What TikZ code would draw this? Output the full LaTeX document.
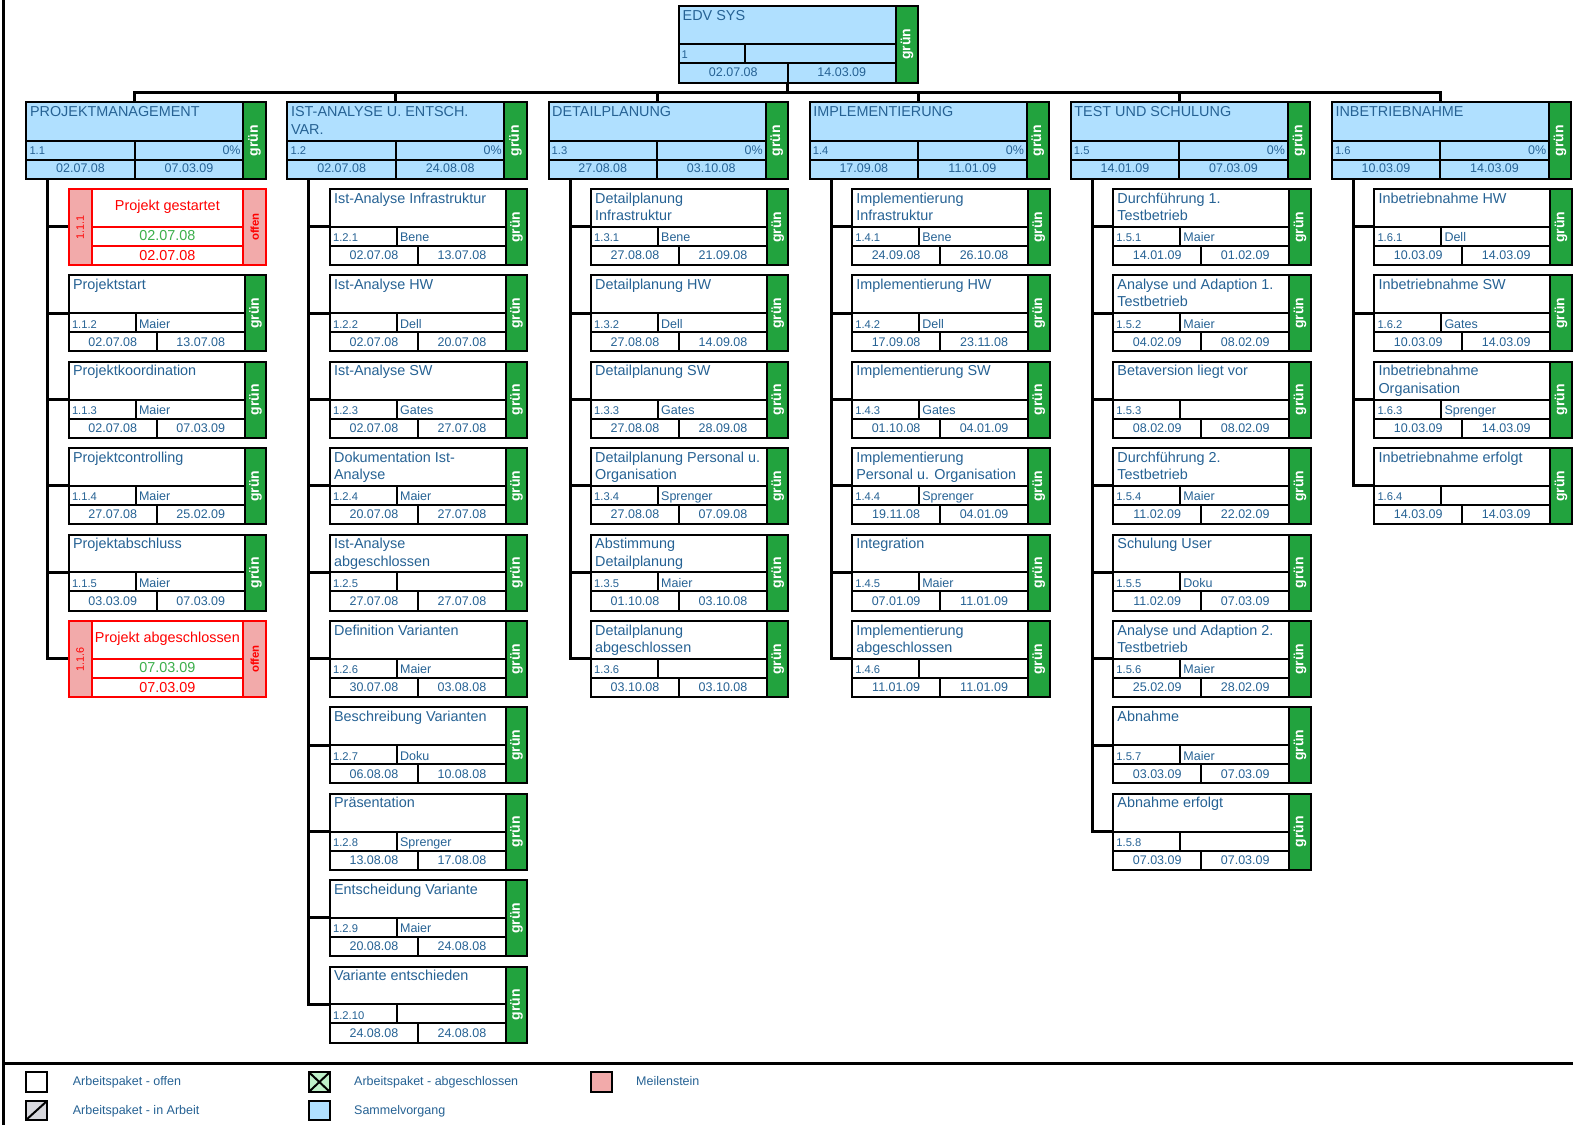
\documentclass[tikz,border=0pt]{standalone}
\usepackage{fontspec}
\setmainfont{Liberation Sans}
\definecolor{txt}{RGB}{38,98,148}
\definecolor{sumblue}{RGB}{176,224,255}
\definecolor{grn}{RGB}{34,163,62}
\definecolor{mspink}{RGB}{242,170,170}
\definecolor{msred}{RGB}{255,0,0}
\definecolor{msgreen}{RGB}{60,175,75}
\definecolor{lgray}{RGB}{215,215,220}
\definecolor{lgreen}{RGB}{190,240,200}
\newcommand\fT{\fontsize{14.4}{17.5}\selectfont}
\newcommand\fS{\fontsize{12.5}{14}\selectfont}
\newcommand\fI{\fontsize{11.2}{13}\selectfont}
\newcommand\fG{\fontsize{14}{16}\selectfont\bfseries}
\tikzset{
  bx/.style={draw=black, line width=2pt},
  ln/.style={draw=black, line width=2pt},
  msb/.style={draw=msred, line width=2pt},
  conn/.style={draw=black, line width=3pt},
  ttl/.style={anchor=base west, inner sep=0pt, text=txt, font=\fT},
  idt/.style={anchor=base west, inner sep=0pt, text=txt, font=\fI},
  nmt/.style={anchor=base west, inner sep=0pt, text=txt, font=\fS},
  dtt/.style={anchor=base, inner sep=0pt, text=txt, font=\fS},
  pct/.style={anchor=base east, inner sep=0pt, text=txt, font=\fS},
  gr/.style={rotate=90, inner sep=0pt, text=white, font=\fG},
  legt/.style={anchor=base west, inner sep=0pt, text=txt, font=\fS},
}
% summary box: #1 col, #2 line1, #3 line2, #4 id, #5 start, #6 end
\newcommand\SUMbox[6]{%
  \pgfmathsetmacro\sx{26.3+261.1*(#1-1)}%
  \pgfmathsetmacro\sxR{\sx+217}%
  \pgfmathsetmacro\sxG{\sx+239.4}%
  \pgfmathsetmacro\sxC{\sx+108.5}%
  \filldraw[bx, fill=grn] (\sxR,102) rectangle (\sxG,179);
  \filldraw[bx, fill=sumblue] (\sx,102) rectangle (\sxR,179);
  \draw[ln] (\sx,141) -- (\sxR,141) (\sx,160) -- (\sxR,160) (\sxC,141) -- (\sxC,179);
  \node[ttl] (s#1-t) at (\sx+3.5,116.5) {\vtop{\hbox{#2}\hbox{#3}}};
  \node[idt] (s#1-id) at (\sx+3,154.5) {#4};
  \node[pct] (s#1-pc) at (\sxR-2.5,154.5) {0\%};
  \node[dtt] (s#1-s) at ({(\sx+\sxC)/2},172.7) {#5};
  \node[dtt] (s#1-e) at ({(\sxC+\sxR)/2},172.7) {#6};
  \node[gr] (s#1-g) at ({(\sxR+\sxG)/2},140.5) {grün};
  \coordinate (s#1-n) at (\sxC,102);
  \coordinate (s#1-sp) at (\sx+21.5,179);
  \draw[conn] (top-s) -- (top-s |- bus) -| (s#1-n);
}
% work package: #1 col, #2 row, #3 line1, #4 line2, #5 id, #6 person, #7 start, #8 end
\newcommand\WPbox[8]{%
  \pgfmathsetmacro\wx{26.3+261.1*(#1-1)+42.5}%
  \pgfmathsetmacro\wy{189+86.4*(#2-1)}%
  \pgfmathsetmacro\wxR{\wx+176}%
  \pgfmathsetmacro\wxG{\wx+197.4}%
  \pgfmathsetmacro\wyT{\wy+37.7}%
  \pgfmathsetmacro\wyM{\wy+56.7}%
  \pgfmathsetmacro\wyB{\wy+76}%
  \pgfmathsetmacro\wxA{\wx+67}%
  \pgfmathsetmacro\wxC{\wx+88}%
  \coordinate (c#1k#2-b) at (\wx,\wyT);
  \draw[conn] (s#1-sp) |- (c#1k#2-b);
  \filldraw[bx, fill=grn] (\wxR,\wy) rectangle (\wxG,\wyB);
  \filldraw[bx, fill=white] (\wx,\wy) rectangle (\wxR,\wyB);
  \draw[ln] (\wx,\wyT) -- (\wxR,\wyT) (\wx,\wyM) -- (\wxR,\wyM) (\wxA,\wyT) -- (\wxA,\wyM) (\wxC,\wyM) -- (\wxC,\wyB);
  \node[ttl] (c#1k#2-t) at (\wx+4,\wy+14) {\vtop{\hbox{#3}\hbox{#4}}};
  \node[idt] (c#1k#2-id) at (\wx+3,\wyM-4) {#5};
  \node[nmt] (c#1k#2-p) at (\wxA+3,\wyM-4) {#6};
  \node[dtt] (c#1k#2-s) at ({(\wx+\wxC)/2},\wyB-5.3) {#7};
  \node[dtt] (c#1k#2-e) at ({(\wxC+\wxR)/2},\wyB-5.3) {#8};
  \node[gr] (c#1k#2-g) at ({(\wxR+\wxG)/2},{(\wy+\wyB)/2}) {grün};
}
% milestone: #1 col, #2 row, #3 title, #4 id, #5 date1, #6 date2
\newcommand\MSbox[6]{%
  \pgfmathsetmacro\wx{26.3+261.1*(#1-1)+42.5}%
  \pgfmathsetmacro\wy{189+86.4*(#2-1)}%
  \pgfmathsetmacro\mxa{\wx+22.7}%
  \pgfmathsetmacro\mxb{\wx+174.4}%
  \pgfmathsetmacro\wxG{\wx+197.4}%
  \pgfmathsetmacro\wyT{\wy+37.7}%
  \pgfmathsetmacro\wyM{\wy+56.7}%
  \pgfmathsetmacro\wyB{\wy+76}%
  \coordinate (c#1k#2-b) at (\wx,\wyT);
  \draw[conn] (s#1-sp) |- (c#1k#2-b);
  \filldraw[msb, fill=mspink] (\wx,\wy) rectangle (\mxa,\wyB);
  \filldraw[msb, fill=mspink] (\mxb,\wy) rectangle (\wxG,\wyB);
  \filldraw[msb, fill=white] (\mxa,\wy) rectangle (\mxb,\wyB);
  \draw[msb] (\mxa,\wyT) -- (\mxb,\wyT) (\mxa,\wyM) -- (\mxb,\wyM);
  \node[anchor=base, inner sep=0pt, text=msred, font=\fT] (c#1k#2-t) at ({(\mxa+\mxb)/2},\wy+21.7) {#3};
  \node[anchor=base, inner sep=0pt, text=msgreen, font=\fT] (c#1k#2-s) at ({(\mxa+\mxb)/2},\wyM-5) {#5};
  \node[anchor=base, inner sep=0pt, text=msred, font=\fT] (c#1k#2-e) at ({(\mxa+\mxb)/2},\wyB-5) {#6};
  \node[rotate=90, inner sep=0pt, text=msred, font=\fontsize{10.8}{12}\selectfont] (c#1k#2-id) at ({(\wx+\mxa)/2},{(\wy+\wyB)/2}) {#4};
  \node[rotate=90, inner sep=0pt, text=msred, font=\fontsize{11.4}{12}\selectfont\bfseries] (c#1k#2-o) at ({(\mxb+\wxG)/2},{(\wy+\wyB)/2}) {offen};
}
\begin{document}
\begin{tikzpicture}[x=1pt, y=-1pt]
\useasboundingbox (0,0) rectangle (1573,1125);
\fill[white] (0,0) rectangle (1573,1125);
% frame
\draw[line width=2.5pt] (3.3,0) -- (3.3,1125);
\draw[line width=2.5pt] (3.3,1063.3) -- (1573,1063.3);
% top box
\coordinate (top-s) at (787.6,82.7);
\coordinate (bus) at (787.6,92.3);
\filldraw[bx, fill=grn] (896,5.5) rectangle (918,82.7);
\filldraw[bx, fill=sumblue] (679,5.5) rectangle (896,82.7);
\draw[ln] (679,44.3) -- (896,44.3) (679,63.3) -- (896,63.3) (745,44.3) -- (745,63.3) (787.6,63.3) -- (787.6,82.7);
\node[ttl] (top-t) at (682.5,20.8) {EDV SYS};
\node[idt] (top-id) at (681.5,58) {1};
\node[dtt] (top-ds) at ({(679+787.6)/2},76.7) {02.07.08};
\node[dtt] (top-de) at ({(787.6+896)/2},76.7) {14.03.09};
\node[gr] (top-g) at (907,44) {grün};
% summary boxes
\SUMbox{1}{PROJEKTMANAGEMENT}{}{1.1}{02.07.08}{07.03.09}
\SUMbox{2}{IST-ANALYSE U. ENTSCH.}{VAR.}{1.2}{02.07.08}{24.08.08}
\SUMbox{3}{DETAILPLANUNG}{}{1.3}{27.08.08}{03.10.08}
\SUMbox{4}{IMPLEMENTIERUNG}{}{1.4}{17.09.08}{11.01.09}
\SUMbox{5}{TEST UND SCHULUNG}{}{1.5}{14.01.09}{07.03.09}
\SUMbox{6}{INBETRIEBNAHME}{}{1.6}{10.03.09}{14.03.09}
% column 1
\MSbox{1}{1}{Projekt gestartet}{1.1.1}{02.07.08}{02.07.08}
\WPbox{1}{2}{Projektstart}{}{1.1.2}{Maier}{02.07.08}{13.07.08}
\WPbox{1}{3}{Projektkoordination}{}{1.1.3}{Maier}{02.07.08}{07.03.09}
\WPbox{1}{4}{Projektcontrolling}{}{1.1.4}{Maier}{27.07.08}{25.02.09}
\WPbox{1}{5}{Projektabschluss}{}{1.1.5}{Maier}{03.03.09}{07.03.09}
\MSbox{1}{6}{Projekt abgeschlossen}{1.1.6}{07.03.09}{07.03.09}
% column 2
\WPbox{2}{1}{Ist-Analyse Infrastruktur}{}{1.2.1}{Bene}{02.07.08}{13.07.08}
\WPbox{2}{2}{Ist-Analyse HW}{}{1.2.2}{Dell}{02.07.08}{20.07.08}
\WPbox{2}{3}{Ist-Analyse SW}{}{1.2.3}{Gates}{02.07.08}{27.07.08}
\WPbox{2}{4}{Dokumentation Ist-}{Analyse}{1.2.4}{Maier}{20.07.08}{27.07.08}
\WPbox{2}{5}{Ist-Analyse}{abgeschlossen}{1.2.5}{}{27.07.08}{27.07.08}
\WPbox{2}{6}{Definition Varianten}{}{1.2.6}{Maier}{30.07.08}{03.08.08}
\WPbox{2}{7}{Beschreibung Varianten}{}{1.2.7}{Doku}{06.08.08}{10.08.08}
\WPbox{2}{8}{Präsentation}{}{1.2.8}{Sprenger}{13.08.08}{17.08.08}
\WPbox{2}{9}{Entscheidung Variante}{}{1.2.9}{Maier}{20.08.08}{24.08.08}
\WPbox{2}{10}{Variante entschieden}{}{1.2.10}{}{24.08.08}{24.08.08}
% column 3
\WPbox{3}{1}{Detailplanung}{Infrastruktur}{1.3.1}{Bene}{27.08.08}{21.09.08}
\WPbox{3}{2}{Detailplanung HW}{}{1.3.2}{Dell}{27.08.08}{14.09.08}
\WPbox{3}{3}{Detailplanung SW}{}{1.3.3}{Gates}{27.08.08}{28.09.08}
\WPbox{3}{4}{Detailplanung Personal u.}{Organisation}{1.3.4}{Sprenger}{27.08.08}{07.09.08}
\WPbox{3}{5}{Abstimmung}{Detailplanung}{1.3.5}{Maier}{01.10.08}{03.10.08}
\WPbox{3}{6}{Detailplanung}{abgeschlossen}{1.3.6}{}{03.10.08}{03.10.08}
% column 4
\WPbox{4}{1}{Implementierung}{Infrastruktur}{1.4.1}{Bene}{24.09.08}{26.10.08}
\WPbox{4}{2}{Implementierung HW}{}{1.4.2}{Dell}{17.09.08}{23.11.08}
\WPbox{4}{3}{Implementierung SW}{}{1.4.3}{Gates}{01.10.08}{04.01.09}
\WPbox{4}{4}{Implementierung}{Personal u. Organisation}{1.4.4}{Sprenger}{19.11.08}{04.01.09}
\WPbox{4}{5}{Integration}{}{1.4.5}{Maier}{07.01.09}{11.01.09}
\WPbox{4}{6}{Implementierung}{abgeschlossen}{1.4.6}{}{11.01.09}{11.01.09}
% column 5
\WPbox{5}{1}{Durchführung 1.}{Testbetrieb}{1.5.1}{Maier}{14.01.09}{01.02.09}
\WPbox{5}{2}{Analyse und Adaption 1.}{Testbetrieb}{1.5.2}{Maier}{04.02.09}{08.02.09}
\WPbox{5}{3}{Betaversion liegt vor}{}{1.5.3}{}{08.02.09}{08.02.09}
\WPbox{5}{4}{Durchführung 2.}{Testbetrieb}{1.5.4}{Maier}{11.02.09}{22.02.09}
\WPbox{5}{5}{Schulung User}{}{1.5.5}{Doku}{11.02.09}{07.03.09}
\WPbox{5}{6}{Analyse und Adaption 2.}{Testbetrieb}{1.5.6}{Maier}{25.02.09}{28.02.09}
\WPbox{5}{7}{Abnahme}{}{1.5.7}{Maier}{03.03.09}{07.03.09}
\WPbox{5}{8}{Abnahme erfolgt}{}{1.5.8}{}{07.03.09}{07.03.09}
% column 6
\WPbox{6}{1}{Inbetriebnahme HW}{}{1.6.1}{Dell}{10.03.09}{14.03.09}
\WPbox{6}{2}{Inbetriebnahme SW}{}{1.6.2}{Gates}{10.03.09}{14.03.09}
\WPbox{6}{3}{Inbetriebnahme}{Organisation}{1.6.3}{Sprenger}{10.03.09}{14.03.09}
\WPbox{6}{4}{Inbetriebnahme erfolgt}{}{1.6.4}{}{14.03.09}{14.03.09}
% legend
\filldraw[bx, fill=white] (26,1072) rectangle (47,1092);
\node[legt] (lg1) at (72.7,1085) {Arbeitspaket - offen};
\filldraw[bx, fill=lgray] (26,1101) rectangle (47,1120);
\draw[ln] (26,1120) -- (47,1101);
\node[legt] (lg2) at (72.7,1114) {Arbeitspaket - in Arbeit};
\filldraw[bx, fill=lgreen] (308.7,1072) rectangle (330,1092);
\draw[ln] (308.7,1072) -- (330,1092) (308.7,1092) -- (330,1072);
\node[legt] (lg3) at (354,1085) {Arbeitspaket - abgeschlossen};
\filldraw[bx, fill=sumblue] (308.7,1101) rectangle (330,1120);
\node[legt] (lg4) at (354,1114) {Sammelvorgang};
\filldraw[bx, fill=mspink] (590.5,1072) rectangle (611.5,1092);
\node[legt] (lg5) at (636,1085) {Meilenstein};
\end{tikzpicture}
\end{document}
